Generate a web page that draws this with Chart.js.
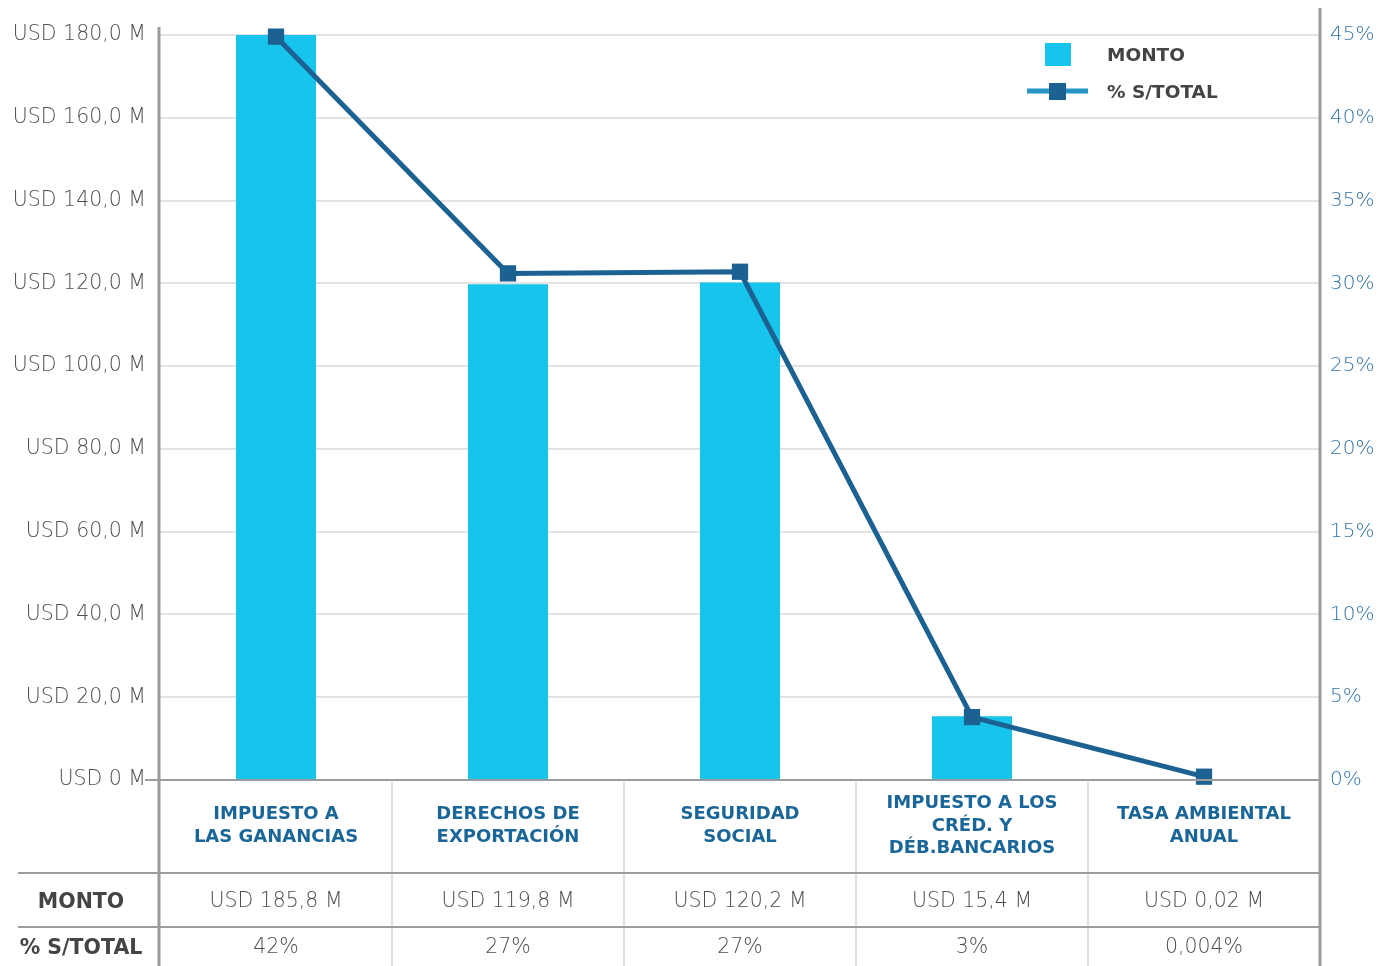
<!DOCTYPE html>
<html>
<head>
<meta charset="utf-8">
<script src="https://cdn.jsdelivr.net/npm/chart.js@4/dist/chart.umd.min.js"></script>
<style>
  html, body { margin: 0; padding: 0; background: #fff; }
  #chart { display: block; }
</style>
</head>
<body>
<canvas id="chart" width="1394" height="966"></canvas>
<script>
// categories (one per column of the table)
const categories = [
  ['IMPUESTO A', 'LAS GANANCIAS'],
  ['DERECHOS DE', 'EXPORTACIÓN'],
  ['SEGURIDAD', 'SOCIAL'],
  ['IMPUESTO A LOS', 'CRÉD. Y', 'DÉB.BANCARIOS'],
  ['TASA AMBIENTAL', 'ANUAL']
]

// bar values, millions of USD
const montoValues = [185.8, 119.8, 120.2, 15.4, 0.02]
// line values as plotted on the right axis (%)
const pctValues = [44.9, 30.6, 30.7, 3.8, 0.2]

// table rows under the chart
const montoLabels = ['USD 185,8 M', 'USD 119,8 M', 'USD 120,2 M', 'USD 15,4 M', 'USD 0,02 M']
const pctLabels = ['42%', '27%', '27%', '3%', '0,004%']
const rowHeaders = ['MONTO', '% S/TOTAL']

// tick labels
const leftTicks = ['USD 0 M', 'USD 20,0 M', 'USD 40,0 M', 'USD 60,0 M', 'USD 80,0 M',
  'USD 100,0 M', 'USD 120,0 M', 'USD 140,0 M', 'USD 160,0 M', 'USD 180,0 M']
const rightTicks = ['0%', '5%', '10%', '15%', '20%', '25%', '30%', '35%', '40%', '45%']

const FONT = '"DejaVu Sans", sans-serif'
const barColor = '#17c4ec'
const lineColor = '#1b6192'

// draws the axis lines, the table underneath and the legend
const tablePlugin = {
  id: 'tablePlugin',
  afterDraw(chart) {
    const ctx = chart.ctx
    const area = chart.chartArea
    const x = chart.scales.x
    const H = chart.height
    const row1 = 873, row2 = 927

    ctx.save()
    // column separators
    ctx.strokeStyle = '#dcdcdc'
    ctx.lineWidth = 2
    for (let i = 0; i < categories.length - 1; i++) {
      const bx = (x.getPixelForValue(i) + x.getPixelForValue(i + 1)) / 2
      ctx.beginPath()
      ctx.moveTo(bx, area.bottom + 2)
      ctx.lineTo(bx, H)
      ctx.stroke()
    }
    // horizontal lines
    ctx.strokeStyle = '#9c9ca0'
    ctx.lineWidth = 2
    ctx.beginPath()
    ctx.moveTo(145, area.bottom); ctx.lineTo(area.right, area.bottom)
    ctx.moveTo(18, row1); ctx.lineTo(area.right, row1)
    ctx.moveTo(18, row2); ctx.lineTo(area.right, row2)
    ctx.stroke()
    // vertical axis lines
    ctx.lineWidth = 3
    ctx.beginPath()
    ctx.moveTo(area.left - 1, 27); ctx.lineTo(area.left - 1, H)
    ctx.moveTo(area.right, 8); ctx.lineTo(area.right, H)
    ctx.stroke()

    // category labels
    ctx.textAlign = 'center'
    ctx.textBaseline = 'middle'
    ctx.fillStyle = '#1b6698'
    ctx.font = 'bold 18px ' + FONT
    const lh = 22.5
    categories.forEach((lines, i) => {
      const cx = x.getPixelForValue(i)
      const y0 = 826 - (lines.length - 1) * lh / 2
      lines.forEach((t, j) => ctx.fillText(t, cx, y0 + j * lh))
    })

    // table values
    ctx.fillStyle = '#4e4e4e'
    ctx.font = '300 20.5px ' + FONT
    montoLabels.forEach((t, i) => ctx.fillText(t, x.getPixelForValue(i), 902))
    pctLabels.forEach((t, i) => ctx.fillText(t, x.getPixelForValue(i), 948))

    // row headers
    ctx.fillStyle = '#444'
    ctx.font = 'bold 20.5px ' + FONT
    ctx.fillText(rowHeaders[0], 81, 903)
    ctx.fillText(rowHeaders[1], 81, 949)

    // legend
    const bars = chart.data.datasets.find(d => d.type === 'bar')
    const line = chart.data.datasets.find(d => d.type === 'line')
    ctx.fillStyle = bars.backgroundColor
    ctx.fillRect(1045, 43, 26, 23)
    ctx.strokeStyle = '#2596c4'
    ctx.lineWidth = 5
    ctx.beginPath()
    ctx.moveTo(1027, 91); ctx.lineTo(1088, 91)
    ctx.stroke()
    ctx.fillStyle = line.borderColor
    ctx.fillRect(1049, 83, 17, 17)
    ctx.textAlign = 'left'
    ctx.fillStyle = '#444'
    ctx.font = 'bold 18.5px ' + FONT
    ctx.fillText(bars.label, 1107, 56)
    ctx.fillText(line.label, 1107, 93)
    ctx.restore()
  }
}

const chart = new Chart(document.querySelector('#chart'), {
  data: {
    labels: categories,
    datasets: [
      {
        type: 'line',
        label: '% S/TOTAL',
        data: pctValues,
        yAxisID: 'y1',
        borderColor: lineColor,
        backgroundColor: lineColor,
        borderWidth: 5,
        pointStyle: 'rect',
        pointRadius: 11.5,
        pointBorderWidth: 0,
        tension: 0,
        clip: false
      },
      {
        type: 'bar',
        label: 'MONTO',
        data: montoValues,
        yAxisID: 'y',
        backgroundColor: barColor,
        barPercentage: 0.69,
        categoryPercentage: 0.5
      }
    ]
  },
  options: {
    responsive: false,
    animation: false,
    layout: { padding: { top: 35 } },
    plugins: {
      legend: { display: false },
      tooltip: { enabled: false }
    },
    scales: {
      x: {
        grid: { display: false },
        border: { display: false },
        ticks: { display: false },
        afterFit(s) { s.height = 186 }
      },
      y: {
        position: 'left',
        min: 0,
        max: 180,
        grid: { color: '#e3e3e3', lineWidth: 2, tickLength: 0 },
        border: { display: false },
        ticks: {
          stepSize: 20,
          padding: 14,
          color: '#4e4e4e',
          font: { family: FONT, size: 20.5, weight: '300' },
          callback: (v, i) => leftTicks[i]
        },
        afterFit(s) { s.width = 160 }
      },
      y1: {
        position: 'right',
        min: 0,
        max: 45,
        grid: { display: false },
        border: { display: false },
        ticks: {
          stepSize: 5,
          padding: 2,
          color: '#3574a6',
          font: { family: FONT, size: 20, weight: '300' },
          callback: (v, i) => rightTicks[i]
        },
        afterFit(s) { s.width = 74 }
      }
    }
  },
  plugins: [tablePlugin]
})
</script>
</body>
</html>
